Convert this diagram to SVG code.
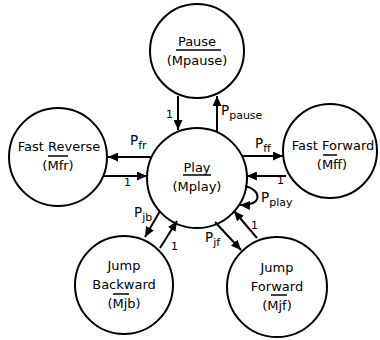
<svg xmlns="http://www.w3.org/2000/svg" width="380" height="340" viewBox="0 0 380 340">
<style>
.n{fill:#fff;stroke:#000;stroke-width:2}
.t{font-family:"DejaVu Sans",Verdana,sans-serif;font-size:13px;fill:#000;text-anchor:middle}
.l{font-family:"DejaVu Sans",Verdana,sans-serif;font-size:13.5px;fill:#000}
.s{font-size:11px}
.one{font-family:"DejaVu Sans",Verdana,sans-serif;font-size:11px;fill:#000}
.ol{stroke:#000;stroke-width:1.5}
.c{fill:none;stroke:#000;stroke-width:2}
</style>
<defs>
<marker id="ah" markerUnits="userSpaceOnUse" markerWidth="11" markerHeight="9" refX="10" refY="4.5" orient="auto">
<path d="M0,0 L10,4.5 L0,9 z" fill="#000"/>
</marker>
</defs>
<rect width="380" height="340" fill="#fff"/>
<g id="pause">
<circle class="n" cx="197" cy="51" r="47"/>
<text class="t" x="197" y="46">Pause</text>
<line class="ol" x1="176" y1="50" x2="221" y2="50"/>
<text class="t" x="197" y="65">(Mpause)</text>
</g>
<g id="play">
<circle class="n" cx="197" cy="178" r="50"/>
<text class="t" x="197" y="171.5">Play</text>
<line class="ol" x1="183" y1="175" x2="211" y2="175"/>
<text class="t" x="197" y="191">(Mplay)</text>
</g>
<g id="fastreverse">
<circle class="n" cx="58" cy="157" r="49"/>
<text class="t" x="59" y="151">Fast Reverse</text>
<line class="ol" x1="48" y1="156" x2="68" y2="156"/>
<text class="t" x="58" y="170">(Mfr)</text>
</g>
<g id="fastforward">
<circle class="n" cx="330" cy="151" r="47"/>
<text class="t" x="333" y="150">Fast Forward</text>
<line class="ol" x1="323" y1="155" x2="337" y2="155"/>
<text class="t" x="332" y="169">(Mff)</text>
</g>
<g id="jumpbackward">
<circle class="n" cx="124" cy="285" r="49"/>
<text class="t" x="124" y="270">Jump</text>
<text class="t" x="124" y="289">Backward</text>
<line class="ol" x1="113" y1="294" x2="129" y2="294"/>
<text class="t" x="124" y="308">(Mjb)</text>
</g>
<g id="jumpforward">
<circle class="n" cx="277" cy="287" r="50"/>
<text class="t" x="277" y="272">Jump</text>
<text class="t" x="277" y="291">Forward</text>
<line class="ol" x1="271" y1="295" x2="287" y2="295"/>
<text class="t" x="277" y="310">(Mjf)</text>
</g>
<g id="connectors">
<line class="c" x1="178" y1="96" x2="178" y2="130" marker-end="url(#ah)"/>
<line class="c" x1="217" y1="132" x2="217" y2="96" marker-end="url(#ah)"/>
<line class="c" x1="152" y1="157" x2="108" y2="157" marker-end="url(#ah)"/>
<line class="c" x1="103" y1="176" x2="147" y2="176" marker-end="url(#ah)"/>
<line class="c" x1="242" y1="156" x2="283" y2="156" marker-end="url(#ah)"/>
<line class="c" x1="286" y1="176" x2="247" y2="176" marker-end="url(#ah)"/>
<path class="c" d="M245,186 C262,190 263,206 240,205" marker-end="url(#ah)"/>
<line class="c" x1="160" y1="211" x2="145" y2="237" marker-end="url(#ah)"/>
<line class="c" x1="160" y1="248" x2="177" y2="221" marker-end="url(#ah)"/>
<line class="c" x1="215" y1="222" x2="241" y2="250" marker-end="url(#ah)"/>
<line class="c" x1="257" y1="238" x2="234" y2="211" marker-end="url(#ah)"/>
<text class="one" x="166" y="118">1</text>
<text class="l" x="221" y="115">P<tspan class="s" dy="4">pause</tspan></text>
<text class="l" x="130" y="145">P<tspan class="s" dy="4">fr</tspan></text>
<text class="one" x="124" y="186">1</text>
<text class="l" x="255" y="148">P<tspan class="s" dy="4">ff</tspan></text>
<text class="one" x="277" y="184">1</text>
<text class="l" x="261" y="202">P<tspan class="s" dy="4">play</tspan></text>
<text class="l" x="134" y="217">P<tspan class="s" dy="4">jb</tspan></text>
<text class="one" x="171" y="250">1</text>
<text class="l" x="205" y="242">P<tspan class="s" dy="4">jf</tspan></text>
<text class="one" x="251" y="229">1</text>
</g>
</svg>
